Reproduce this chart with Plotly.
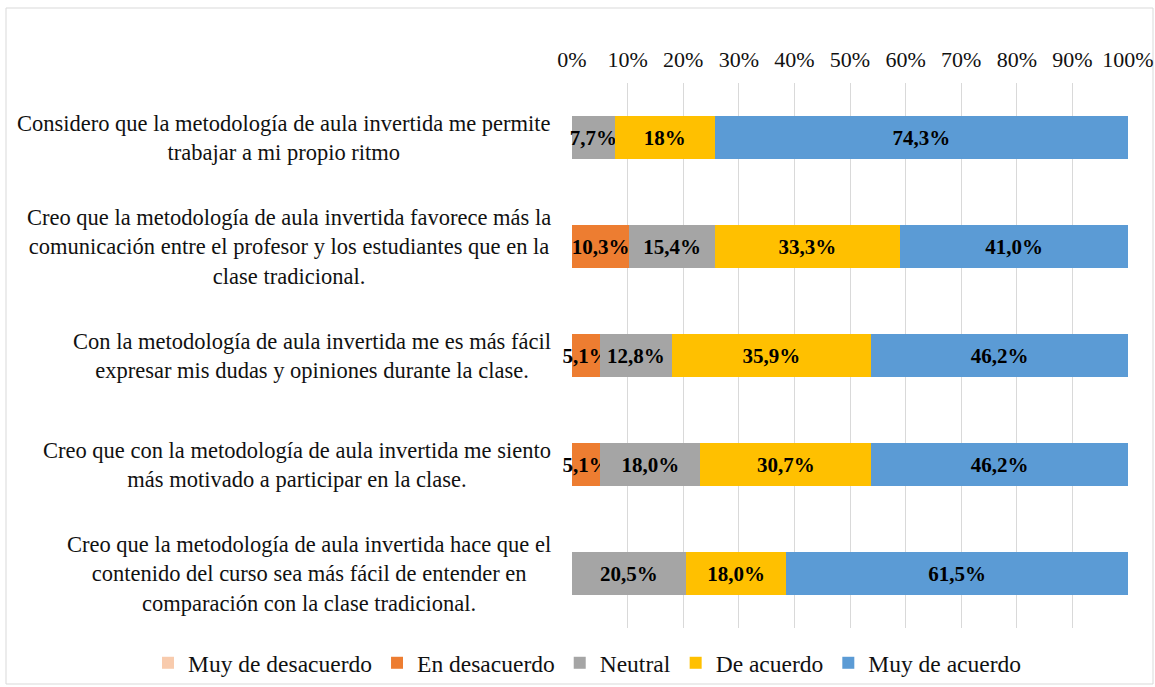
import plotly.graph_objects as go

categories = [
    "Considero que la metodología de aula invertida me permite<br>trabajar a mi propio ritmo",
    "Creo que la metodología de aula invertida favorece más la<br>comunicación entre el profesor y los estudiantes que en la<br>clase tradicional.",
    "Con la metodología de aula invertida me es más fácil<br>expresar mis dudas y opiniones durante la clase.",
    "Creo que con la metodología de aula invertida me siento<br>más motivado a participar en la clase.",
    "Creo que la metodología de aula invertida hace que el<br>contenido del curso sea más fácil de entender en<br>comparación con la clase tradicional.",
]

series_names = ["Muy de desacuerdo", "En desacuerdo", "Neutral", "De acuerdo", "Muy de acuerdo"]
muy_desacuerdo = [0, 0, 0, 0, 0]
en_desacuerdo = [0, 10.3, 5.1, 5.1, 0]
neutral = [7.7, 15.4, 12.8, 18.0, 20.5]
de_acuerdo = [18.0, 33.3, 35.9, 30.7, 18.0]
muy_acuerdo = [74.3, 41.0, 46.2, 46.2, 61.5]

label_muy_desacuerdo = ["", "", "", "", ""]
label_en_desacuerdo = ["", "10,3%", "5,1%", "5,1%", ""]
label_neutral = ["7,7%", "15,4%", "12,8%", "18,0%", "20,5%"]
label_de_acuerdo = ["18%", "33,3%", "35,9%", "30,7%", "18,0%"]
label_muy_acuerdo = ["74,3%", "41,0%", "46,2%", "46,2%", "61,5%"]

tick_vals = [0, 10, 20, 30, 40, 50, 60, 70, 80, 90, 100]
tick_text = ["0%", "10%", "20%", "30%", "40%", "50%", "60%", "70%", "80%", "90%", "100%"]

colors = ["#F8CBAD", "#ED7D31", "#A5A5A5", "#FFC000", "#5B9BD5"]
values = [muy_desacuerdo, en_desacuerdo, neutral, de_acuerdo, muy_acuerdo]
labels = [label_muy_desacuerdo, label_en_desacuerdo, label_neutral, label_de_acuerdo, label_muy_acuerdo]

FONT = "Liberation Serif"
TXT = "#111111"

fig = go.Figure()
for name, vals, txt, col in zip(series_names, values, labels, colors):
    fig.add_trace(go.Bar(
        y=categories, x=vals, name=name, orientation="h",
        marker=dict(color=col, line=dict(width=0)),
        text=txt, textposition="inside", insidetextanchor="middle", textangle=0,
        textfont=dict(family=FONT, size=21, color="black", weight="bold"),
        cliponaxis=False,
    ))

W, H = 1155, 687
L, R, T, B = 572, 27, 83, 59
pw, ph = W - L - R, H - T - B

def px_x(p):
    return (p - L) / pw

def px_y(p):
    return (H - B - p) / ph

annotations = []
for c in categories:
    annotations.append(dict(
        x=px_x(553), xref="paper", y=c, yref="y", text=c, showarrow=False,
        xanchor="right", yanchor="middle", align="center",
        font=dict(family=FONT, size=22.5, color=TXT),
    ))

shapes = [dict(type="rect", xref="paper", yref="paper",
               x0=px_x(6), x1=px_x(1153), y0=px_y(684), y1=px_y(8),
               line=dict(color="#d9d9d9", width=1), fillcolor="rgba(0,0,0,0)", layer="below")]

fig.update_layout(
    barmode="stack",
    bargap=0.6,
    width=W, height=H,
    autosize=False,
    margin=dict(l=L, r=R, t=T, b=B, autoexpand=False),
    paper_bgcolor="white", plot_bgcolor="white",
    font=dict(family=FONT, size=22, color=TXT),
    uniformtext=dict(minsize=21, mode="show"),
    xaxis=dict(side="top", range=[0, 100], tickvals=tick_vals, ticktext=tick_text,
               showgrid=True, gridcolor="#d9d9d9", gridwidth=1, zeroline=False,
               showline=False, ticks="", tickfont=dict(family=FONT, size=22, color=TXT),
               ticklabelstandoff=11, automargin=False, fixedrange=True),
    yaxis=dict(autorange="reversed", showticklabels=False, showgrid=False, zeroline=False,
               showline=False, ticks="", automargin=False, fixedrange=True),
    legend=dict(orientation="h", x=px_x(148), xanchor="left",
                y=px_y(663), yanchor="middle",
                font=dict(family=FONT, size=23.5, color=TXT),
                traceorder="normal", itemwidth=30, bgcolor="rgba(0,0,0,0)"),
    annotations=annotations,
    shapes=shapes,
)

fig.write_html("out.html", config={"displayModeBar": False},
               post_script="document.body.style.margin='0';")
